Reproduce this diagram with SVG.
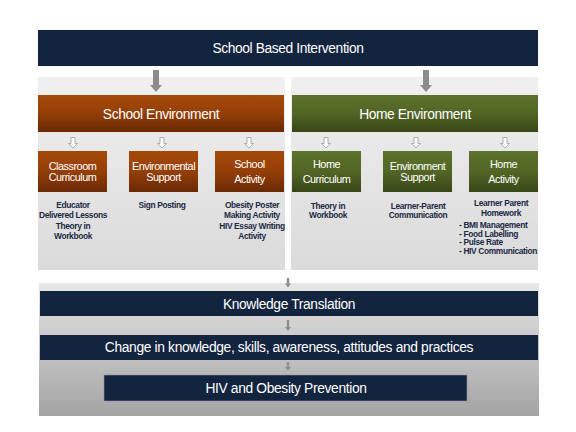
<svg xmlns="http://www.w3.org/2000/svg" width="576" height="432" viewBox="0 0 576 432">
<defs>
<linearGradient id="gPanel" x1="0" y1="0" x2="0" y2="1"><stop offset="0" stop-color="#f0f0f0"/><stop offset="1" stop-color="#dadada"/></linearGradient>
<linearGradient id="gBottom" x1="0" y1="0" x2="0" y2="1"><stop offset="0" stop-color="#e8e8e8"/><stop offset="0.5" stop-color="#c4c4c4"/><stop offset="1" stop-color="#a4a4a4"/></linearGradient>
<linearGradient id="gOrange" x1="0" y1="0" x2="0" y2="1"><stop offset="0" stop-color="#a5490a"/><stop offset="0.5" stop-color="#943f08"/><stop offset="1" stop-color="#6a2904"/></linearGradient>
<linearGradient id="gGreen" x1="0" y1="0" x2="0" y2="1"><stop offset="0" stop-color="#5d722c"/><stop offset="0.5" stop-color="#526525"/><stop offset="1" stop-color="#374717"/></linearGradient>
<style>
.navy{fill:#13243f}
.t{font-family:"Liberation Sans",Arial,sans-serif;fill:#ffffff;text-anchor:middle}
.big{font-size:13.8px;letter-spacing:-0.4px}
.mid{font-size:13.8px;letter-spacing:-0.35px}
.sb{font-size:10.9px;letter-spacing:-0.5px}
.s{font-family:"Liberation Sans",Arial,sans-serif;font-size:8.4px;font-weight:bold;fill:#1c2a45;letter-spacing:-0.35px;text-anchor:middle}
.sl{text-anchor:start}
.bigArrow{fill:#8c8c8c}
.outArrow{fill:#ffffff;stroke:#9a9a9a;stroke-width:0.8}
.smArrow{fill:#8f8f8f}
</style>
</defs>
<g id="backgrounds">
<rect x="38" y="77" width="247" height="193" fill="url(#gPanel)"/>
<rect x="291" y="77" width="247" height="193" fill="url(#gPanel)"/>
<rect x="39" y="283" width="500" height="133" fill="url(#gBottom)"/>
</g>
<g id="school-based-intervention">
<rect class="navy" x="38" y="30" width="500" height="36"/>
<text class="t big" x="288" y="53">School Based Intervention</text>
</g>
<g id="school-environment">
<rect x="38" y="95" width="246" height="37" fill="url(#gOrange)"/>
<text class="t big" x="161" y="118.5">School Environment</text>
</g>
<g id="home-environment">
<rect x="292" y="95" width="246" height="37" fill="url(#gGreen)"/>
<text class="t big" x="415" y="118.5">Home Environment</text>
</g>
<g id="classroom-curriculum">
<rect x="38" y="151" width="69" height="41" fill="url(#gOrange)"/>
<text class="t sb" x="72.5" y="169.5">Classroom</text>
<text class="t sb" x="72.5" y="181">Curriculum</text>
<text class="s" x="73" y="208">Educator</text>
<text class="s" x="73" y="217.5">Delivered Lessons</text>
<text class="s" x="73" y="229">Theory in</text>
<text class="s" x="73" y="238.5">Workbook</text>
</g>
<g id="environmental-support">
<rect x="129" y="151" width="69" height="41" fill="url(#gOrange)"/>
<text class="t sb" x="163.5" y="169.5">Environmental</text>
<text class="t sb" x="163.5" y="181">Support</text>
<text class="s" x="162" y="208">Sign Posting</text>
</g>
<g id="school-activity">
<rect x="215" y="151" width="69" height="41" fill="url(#gOrange)"/>
<text class="t sb" x="249.5" y="167.5">School</text>
<text class="t sb" x="249.5" y="183">Activity</text>
<text class="s" x="252" y="208">Obesity Poster</text>
<text class="s" x="252" y="217.5">Making Activity</text>
<text class="s" x="252" y="229">HIV Essay Writing</text>
<text class="s" x="252" y="238.5">Activity</text>
</g>
<g id="home-curriculum">
<rect x="292" y="151" width="69" height="41" fill="url(#gGreen)"/>
<text class="t sb" x="326.5" y="167.5">Home</text>
<text class="t sb" x="326.5" y="183">Curriculum</text>
<text class="s" x="328" y="208.5">Theory in</text>
<text class="s" x="328" y="217.5">Workbook</text>
</g>
<g id="environment-support">
<rect x="383" y="151" width="69" height="41" fill="url(#gGreen)"/>
<text class="t sb" x="417.5" y="169.5">Environment</text>
<text class="t sb" x="417.5" y="181">Support</text>
<text class="s" x="418" y="208.5">Learner-Parent</text>
<text class="s" x="418" y="217.5">Communication</text>
</g>
<g id="home-activity">
<rect x="469" y="151" width="69" height="41" fill="url(#gGreen)"/>
<text class="t sb" x="503.5" y="167.5">Home</text>
<text class="t sb" x="503.5" y="183">Activity</text>
<text class="s" x="501" y="206">Learner Parent</text>
<text class="s" x="501" y="215.5">Homework</text>
<text class="s sl" x="459" y="228">- BMI Management</text>
<text class="s sl" x="459" y="236.5">- Food Labelling</text>
<text class="s sl" x="459" y="245">- Pulse Rate</text>
<text class="s sl" x="459" y="253.5">- HIV Communication</text>
</g>
<g id="knowledge-translation">
<rect class="navy" x="40" y="291" width="498" height="25"/>
<text class="t mid" x="289" y="308.5">Knowledge Translation</text>
</g>
<g id="change">
<rect class="navy" x="40" y="335" width="498" height="25"/>
<text class="t mid" x="289" y="352">Change in knowledge, skills, awareness, attitudes and practices</text>
</g>
<g id="prevention">
<rect class="navy" x="104" y="375" width="363" height="26" stroke="#8a93a3" stroke-width="0.6"/>
<text class="t mid" x="286" y="392.5">HIV and Obesity Prevention</text>
</g>
<g id="connectors">
<path class="bigArrow" d="M153 70 H159 V85 H162 L156 92 L150 85 H153 Z"/>
<path class="bigArrow" d="M423 70 H429 V85 H432 L426 92 L420 85 H423 Z"/>
<path class="outArrow" d="M71 137.5 H75 V143.5 H77.5 L73 148 L68.5 143.5 H71 Z"/>
<path class="outArrow" d="M160 137.5 H164 V143.5 H166.5 L162 148 L157.5 143.5 H160 Z"/>
<path class="outArrow" d="M247 137.5 H251 V143.5 H253.5 L249 148 L244.5 143.5 H247 Z"/>
<path class="outArrow" d="M324 137.5 H328 V143.5 H330.5 L326 148 L321.5 143.5 H324 Z"/>
<path class="outArrow" d="M414 137.5 H418 V143.5 H420.5 L416 148 L411.5 143.5 H414 Z"/>
<path class="outArrow" d="M503 137.5 H507 V143.5 H509.5 L505 148 L500.5 143.5 H503 Z"/>
<path class="smArrow" d="M286.8 278 H289.2 V283.5 H291 L288 287.5 L285 283.5 H286.8 Z"/>
<path class="smArrow" d="M286.8 320 H289.2 V327 H291 L288 331 L285 327 H286.8 Z"/>
<path class="smArrow" d="M286.8 362 H289.2 V367 H291 L288 371 L285 367 H286.8 Z"/>
</g>
</svg>
